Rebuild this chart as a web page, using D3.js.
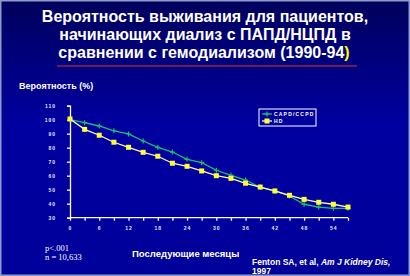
<!DOCTYPE html>
<html>
<head>
<meta charset="utf-8">
<script src="https://cdn.jsdelivr.net/npm/d3@7"></script>
<style>
  html, body { margin: 0; padding: 0; background: #000070; }
  svg { display: block; }
</style>
</head>
<body>
<div id="chart"></div>
<script>
const months = [0, 3, 6, 9, 12, 15, 18, 21, 24, 27, 30, 33, 36, 39, 42, 45, 48, 51, 54, 57];
const capdValues = [100, 97.9, 95.5, 92.1, 89.8, 84.8, 80.3, 76.9, 71.7, 69.3, 63.9, 60.3, 56.9, 51.7, 49.1, 45.5, 39.6, 37.6, 36.7, 36.7];
const hdValues = [100.5, 93.1, 88.9, 83.9, 80.3, 76.7, 73.9, 68.9, 66.7, 63.4, 60, 58.1, 54.6, 51.9, 49.1, 46, 43.1, 41, 39.6, 37.6];
const yTicks = [30, 40, 50, 60, 70, 80, 90, 100, 110];
const xLabelTicks = [0, 6, 12, 18, 24, 30, 36, 42, 48, 54];
const seriesNames = ["CAPD/CCPD", "HD"];

const W = 410, H = 276;
const svg = d3.select("#chart").append("svg")
    .attr("width", W)
    .attr("height", H);

// background
const defs = svg.append("defs");
const grad = defs.append("linearGradient")
    .attr("id", "bg")
    .attr("x1", 0).attr("y1", 0).attr("x2", 0).attr("y2", 1);
grad.append("stop").attr("offset", "0%").attr("stop-color", "#00005c");
grad.append("stop").attr("offset", "45%").attr("stop-color", "#0000a0");
grad.append("stop").attr("offset", "100%").attr("stop-color", "#00009a");

svg.append("rect")
    .attr("width", W).attr("height", H)
    .attr("fill", "url(#bg)");
svg.append("rect")
    .attr("x", 0.75).attr("y", 0.75)
    .attr("width", W - 1.5).attr("height", H - 1.5)
    .attr("fill", "none")
    .attr("stroke", "#8a9cc8")
    .attr("stroke-width", 1.5);

// title
const title = svg.append("text")
    .attr("text-anchor", "middle")
    .attr("fill", "#fff")
    .style("font-family", "Arial, 'Liberation Sans', sans-serif")
    .style("font-weight", "bold")
    .style("font-size", "16px");
title.append("tspan").attr("x", 205).attr("y", 22).text("Вероятность выживания для пациентов,");
title.append("tspan").attr("x", 205).attr("y", 40).text("начинающих диализ с ПАПД/НЦПД в");
const l3 = title.append("tspan").attr("x", 204).attr("y", 58);
l3.append("tspan").text("сравнении с гемодиализом (1990-94");
l3.append("tspan").attr("fill", "#ffff00").text(")");

svg.append("line")
    .attr("x1", 57).attr("x2", 357)
    .attr("y1", 66).attr("y2", 66)
    .attr("stroke", "#e03030")
    .attr("stroke-width", 1);

svg.append("text")
    .attr("x", 19).attr("y", 89)
    .attr("fill", "#fff")
    .style("font-family", "Arial, 'Liberation Sans', sans-serif")
    .style("font-weight", "bold")
    .style("font-size", "9px")
    .text("Вероятность (%)");

// scales
const x = d3.scaleLinear().domain([0, 57]).range([70, 348]);
const y = d3.scaleLinear().domain([30, 110]).range([217.7, 105.7]);

const tickFont = g => g.selectAll("text")
    .attr("fill", "#e8e8ff")
    .style("font-family", "Arial, sans-serif")
    .style("font-weight", "bold")
    .style("font-size", "5px")
    .style("letter-spacing", "1px");

const yAxis = svg.append("g")
    .attr("transform", `translate(${x(0)},0)`)
    .call(d3.axisLeft(y).tickValues(yTicks).tickSize(3).tickPadding(11));
yAxis.selectAll("path, line").attr("stroke", "#fff").attr("stroke-width", 1.3);
yAxis.attr("font-family", null).attr("font-size", null);
yAxis.call(tickFont);

const xAxis = svg.append("g")
    .attr("transform", `translate(0,${y(30)})`)
    .call(d3.axisBottom(x).tickValues(months).tickSize(3).tickPadding(6)
        .tickFormat(d => xLabelTicks.includes(d) ? d : ""));
xAxis.selectAll("path, line").attr("stroke", "#fff").attr("stroke-width", 1.3);
xAxis.select(".domain").attr("d", `M${x(0)},0H${x(57)}`);
xAxis.attr("font-family", null).attr("font-size", null);
xAxis.call(tickFont);

// series
const capd = months.map((m, i) => ({ m, v: capdValues[i] }));
const hd = months.map((m, i) => ({ m, v: hdValues[i] }));
const line = d3.line().x(d => x(d.m)).y(d => y(d.v));

svg.append("path")
    .datum(capd)
    .attr("d", line)
    .attr("fill", "none")
    .attr("stroke", "#1fbf6a")
    .attr("stroke-width", 1.3);

svg.append("path")
    .datum(hd)
    .attr("d", line)
    .attr("fill", "none")
    .attr("stroke", "#fffbe0")
    .attr("stroke-width", 1.3);

svg.selectAll(".plus")
    .data(capd)
    .join("path")
    .attr("class", "plus")
    .attr("d", d => `M${x(d.m) - 2.5},${y(d.v)}h5M${x(d.m)},${y(d.v) - 2.5}v5`)
    .attr("stroke", "#1fbf6a")
    .attr("stroke-width", 1.2);

svg.selectAll(".sq")
    .data(hd)
    .join("rect")
    .attr("class", "sq")
    .attr("x", d => x(d.m) - 2.5)
    .attr("y", d => y(d.v) - 2.5)
    .attr("width", 5).attr("height", 5)
    .attr("fill", "#ffff33");

// legend
const lg = svg.append("g").attr("transform", "translate(259,109)");
lg.append("rect")
    .attr("width", 57).attr("height", 17)
    .attr("fill", "none")
    .attr("stroke", "#fff")
    .attr("stroke-width", 1);
lg.append("line").attr("x1", 3).attr("x2", 13).attr("y1", 5).attr("y2", 5)
    .attr("stroke", "#1fbf6a").attr("stroke-width", 1.3);
lg.append("path").attr("d", "M5.5,5h5M8,2.5v5").attr("stroke", "#1fbf6a").attr("stroke-width", 1.2);
lg.append("line").attr("x1", 3).attr("x2", 13).attr("y1", 12).attr("y2", 12)
    .attr("stroke", "#fffbe0").attr("stroke-width", 1.3);
lg.append("rect").attr("x", 5.5).attr("y", 9.5).attr("width", 5).attr("height", 5).attr("fill", "#ffff33");
lg.selectAll(".lt")
    .data(seriesNames)
    .join("text")
    .attr("class", "lt")
    .attr("x", 15)
    .attr("y", (d, i) => 7 + i * 7)
    .attr("fill", "#fff")
    .style("font-family", "Arial, sans-serif")
    .style("font-weight", "bold")
    .style("font-size", "5px")
    .style("letter-spacing", "1.2px")
    .text(d => d);

// footer texts
const note = svg.append("text")
    .attr("fill", "#fff")
    .style("font-family", "'Liberation Serif', 'Times New Roman', serif")
    .style("font-size", "8.5px");
note.append("tspan").attr("x", 45).attr("y", 251).text("p<.001");
note.append("tspan").attr("x", 45).attr("y", 259.5).text("n = 10,633");

svg.append("text")
    .attr("x", 132).attr("y", 257)
    .attr("fill", "#fff")
    .style("font-family", "Arial, 'Liberation Sans', sans-serif")
    .style("font-weight", "bold")
    .style("font-size", "9.5px")
    .text("Последующие месяцы");

const cite = svg.append("text")
    .attr("fill", "#fff")
    .style("font-family", "'Liberation Sans Narrow', 'Arial Narrow', Arial, sans-serif")
    .style("font-weight", "bold")
    .style("font-size", "8.5px");
const c1 = cite.append("tspan").attr("x", 252).attr("y", 265);
c1.append("tspan").text("Fenton SA, et al, ");
c1.append("tspan").style("font-style", "italic").text("Am J Kidney Dis,");
cite.append("tspan").attr("x", 252).attr("y", 274).text("1997");
</script>
</body>
</html>
